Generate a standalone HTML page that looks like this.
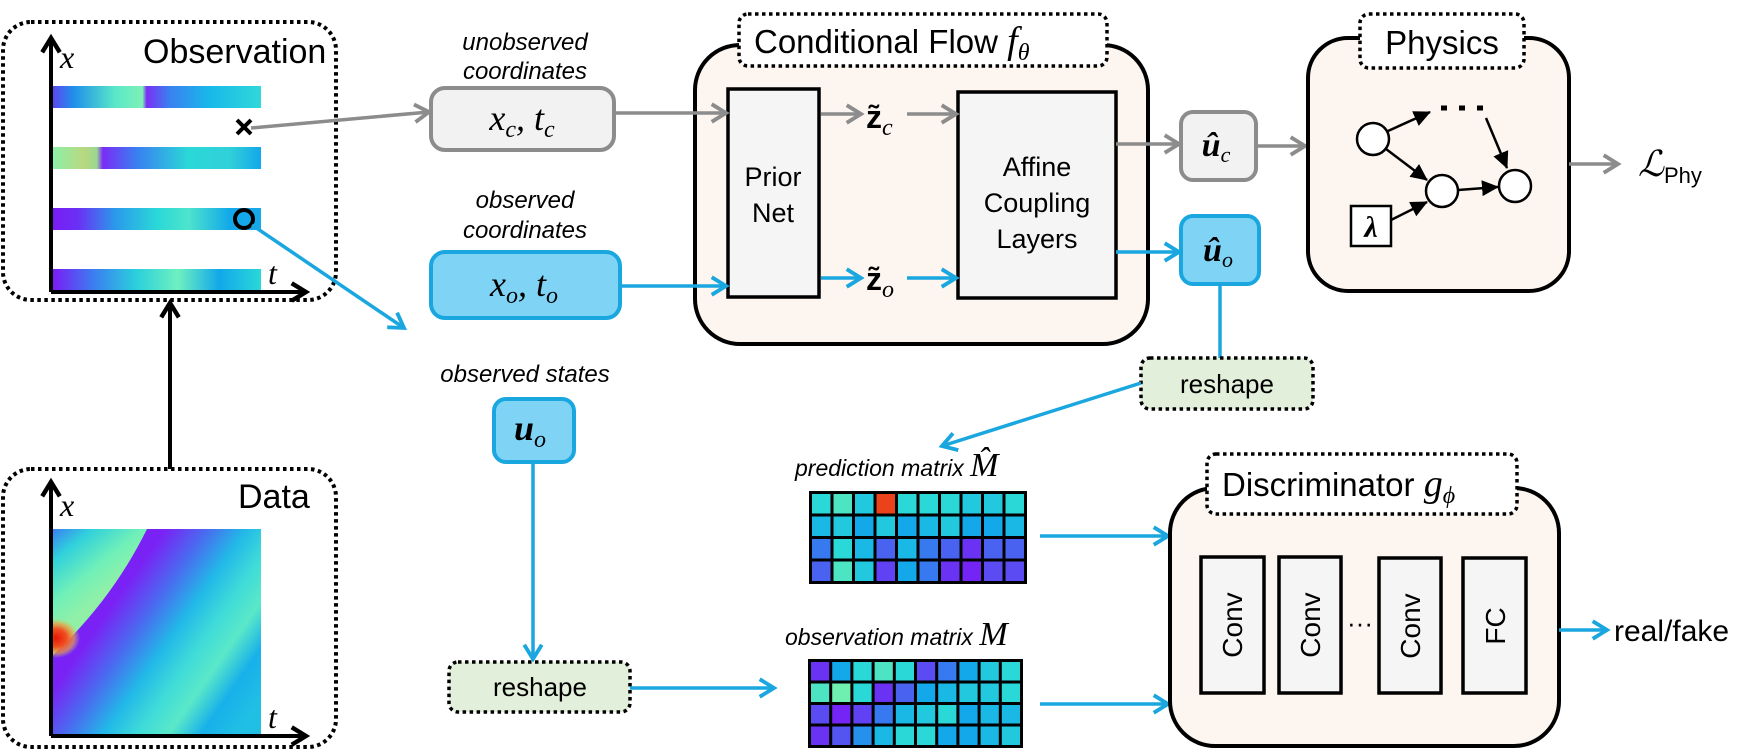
<!DOCTYPE html>
<html><head><meta charset="utf-8"><style>
html,body{margin:0;padding:0;background:#fff;}
svg{display:block;}
text{font-family:"Liberation Sans",sans-serif;}
.ser{font-family:"Liberation Serif",serif;font-style:italic;}
.it{font-style:italic;}
</style></head><body>
<svg id="fig" width="1754" height="750" viewBox="0 0 1754 750" xmlns="http://www.w3.org/2000/svg">
<defs>
<marker id="ag" markerUnits="userSpaceOnUse" markerWidth="22" markerHeight="22" refX="16" refY="9" orient="auto" viewBox="0 0 20 18"><path d="M3,1 L16,9 L3,17" fill="none" stroke="#8c8c8c" stroke-width="3.5"/></marker>
<marker id="ab" markerUnits="userSpaceOnUse" markerWidth="22" markerHeight="22" refX="16" refY="9" orient="auto" viewBox="0 0 20 18"><path d="M3,1 L16,9 L3,17" fill="none" stroke="#1aa7e0" stroke-width="3.5"/></marker>
<marker id="ak" markerUnits="userSpaceOnUse" markerWidth="22" markerHeight="22" refX="16" refY="9" orient="auto" viewBox="0 0 20 18"><path d="M3,1 L16,9 L3,17" fill="none" stroke="#000" stroke-width="4"/></marker>
<marker id="tk" markerUnits="userSpaceOnUse" markerWidth="18" markerHeight="18" refX="16" refY="8" orient="auto" viewBox="0 0 18 16"><path d="M0,0 L17,8 L0,16 Z" fill="#000"/></marker>
<linearGradient id="s1" x1="0" x2="1"><stop offset="0" stop-color="#5a48f0"/><stop offset="0.1" stop-color="#2090ea"/><stop offset="0.3" stop-color="#5ae8c8"/><stop offset="0.43" stop-color="#7ef0b8"/><stop offset="0.45" stop-color="#7a30f5"/><stop offset="0.56" stop-color="#3a80f0"/><stop offset="0.75" stop-color="#18b8ea"/><stop offset="1" stop-color="#30d8d8"/></linearGradient>
<linearGradient id="s2" x1="0" x2="1"><stop offset="0" stop-color="#8ef0a8"/><stop offset="0.15" stop-color="#b8d880"/><stop offset="0.21" stop-color="#9ad890"/><stop offset="0.24" stop-color="#7a2cf6"/><stop offset="0.4" stop-color="#3a7ef0"/><stop offset="0.65" stop-color="#2ad8d8"/><stop offset="0.85" stop-color="#30d0d8"/><stop offset="1" stop-color="#12a8ea"/></linearGradient>
<linearGradient id="s3" x1="0" x2="1"><stop offset="0" stop-color="#7a1cf6"/><stop offset="0.12" stop-color="#6a30f4"/><stop offset="0.3" stop-color="#2a9aea"/><stop offset="0.5" stop-color="#2ad8d8"/><stop offset="0.65" stop-color="#4ee4cc"/><stop offset="0.85" stop-color="#12a8ea"/><stop offset="1" stop-color="#18a8ea"/></linearGradient>
<linearGradient id="s4" x1="0" x2="1"><stop offset="0" stop-color="#7a1cf6"/><stop offset="0.2" stop-color="#3a80f0"/><stop offset="0.4" stop-color="#2ad0dc"/><stop offset="0.6" stop-color="#6ef0c0"/><stop offset="0.8" stop-color="#12a8ea"/><stop offset="1" stop-color="#2ad8d8"/></linearGradient>
<linearGradient id="dg" gradientUnits="userSpaceOnUse" x1="60" y1="560" x2="261" y2="700"><stop offset="0" stop-color="#7a22f5"/><stop offset="0.28" stop-color="#7a22f5"/><stop offset="0.42" stop-color="#4a6af0"/><stop offset="0.55" stop-color="#22b8e8"/><stop offset="0.67" stop-color="#40dcd8"/><stop offset="0.77" stop-color="#5ae8c8"/><stop offset="0.88" stop-color="#18b0ea"/><stop offset="1" stop-color="#20c0e4"/></linearGradient>
<linearGradient id="dw" gradientUnits="userSpaceOnUse" x1="53" y1="529" x2="105" y2="592"><stop offset="0" stop-color="#3a80f0"/><stop offset="0.3" stop-color="#30d0dc"/><stop offset="0.7" stop-color="#70f0b8"/><stop offset="1" stop-color="#90f0a8"/></linearGradient>
<radialGradient id="red"><stop offset="0" stop-color="#e81808"/><stop offset="0.45" stop-color="#f05020"/><stop offset="0.75" stop-color="#f0a040" stop-opacity="0.7"/><stop offset="1" stop-color="#b0e070" stop-opacity="0"/></radialGradient>
<clipPath id="dclip"><rect x="53" y="529" width="208" height="206"/></clipPath>
</defs>

<g>
<rect x="3" y="22" width="333" height="278" rx="28" fill="none" stroke="#000" stroke-width="4" stroke-dasharray="3.5 3.5"/>
<text x="143" y="63" font-size="34">Observation</text>
<rect x="53" y="86" width="208" height="22" fill="url(#s1)"/>
<rect x="53" y="147" width="208" height="22" fill="url(#s2)"/>
<rect x="53" y="208" width="208" height="22" fill="url(#s3)"/>
<rect x="53" y="269" width="208" height="22" fill="url(#s4)"/>
<line x1="51" y1="292" x2="306" y2="292" stroke="#000" stroke-width="4" marker-end="url(#ak)"/>
<line x1="51" y1="292" x2="51" y2="38" stroke="#000" stroke-width="4" marker-end="url(#ak)"/>
<text class="ser" x="60" y="68" font-size="32">x</text>
<text class="ser" x="268" y="284" font-size="32">t</text>
<g stroke="#000" stroke-width="4"><line x1="237" y1="120" x2="251" y2="134"/><line x1="251" y1="120" x2="237" y2="134"/></g>
<circle cx="244" cy="219" r="9" fill="none" stroke="#000" stroke-width="4"/>
</g>

<g>
<rect x="3" y="469" width="333" height="278" rx="28" fill="none" stroke="#000" stroke-width="4" stroke-dasharray="3.5 3.5"/>
<text x="238" y="508" font-size="34">Data</text>
<g clip-path="url(#dclip)">
<rect x="53" y="529" width="208" height="206" fill="url(#dg)"/>
<path d="M53,529 L147,529 Q112,600 53,655 Z" fill="url(#dw)"/>
<ellipse cx="56" cy="638" rx="24" ry="20" fill="url(#red)"/>
</g>
<line x1="51" y1="736" x2="306" y2="736" stroke="#000" stroke-width="4" marker-end="url(#ak)"/>
<line x1="51" y1="736" x2="51" y2="482" stroke="#000" stroke-width="4" marker-end="url(#ak)"/>
<text class="ser" x="60" y="516" font-size="32">x</text>
<text class="ser" x="268" y="728" font-size="32">t</text>
</g>
<line x1="170" y1="469" x2="170" y2="303" stroke="#000" stroke-width="4" marker-end="url(#ak)"/>

<text class="it" x="525" y="50" font-size="24" text-anchor="middle">unobserved</text>
<text class="it" x="525" y="79" font-size="24" text-anchor="middle">coordinates</text>
<rect x="431" y="88" width="183" height="62" rx="14" fill="#f2f2f2" stroke="#8c8c8c" stroke-width="4"/>
<text class="ser" x="522" y="130" font-size="36" text-anchor="middle">x<tspan font-size="24" dy="7">c</tspan><tspan dy="-7">, t</tspan><tspan font-size="24" dy="7">c</tspan></text>
<text class="it" x="525" y="208" font-size="24" text-anchor="middle">observed</text>
<text class="it" x="525" y="238" font-size="24" text-anchor="middle">coordinates</text>
<rect x="431" y="252" width="189" height="66" rx="14" fill="#7fd4f6" stroke="#1aa7e0" stroke-width="4"/>
<text class="ser" x="524" y="296" font-size="36" text-anchor="middle">x<tspan font-size="24" dy="7">o</tspan><tspan dy="-7">, t</tspan><tspan font-size="24" dy="7">o</tspan></text>
<line x1="251" y1="128" x2="429" y2="112" stroke="#8c8c8c" stroke-width="3.5" marker-end="url(#ag)"/>
<line x1="252" y1="225" x2="404" y2="328" stroke="#1aa7e0" stroke-width="3.5" marker-end="url(#ab)"/>

<text class="it" x="525" y="382" font-size="24" text-anchor="middle">observed states</text>
<rect x="494" y="399" width="80" height="63" rx="12" fill="#7fd4f6" stroke="#1aa7e0" stroke-width="4"/>
<text class="ser" x="530" y="440" font-size="36" font-weight="bold" text-anchor="middle">u<tspan font-size="24" font-weight="normal" dy="7">o</tspan></text>
<line x1="533" y1="462" x2="533" y2="659" stroke="#1aa7e0" stroke-width="3.5" marker-end="url(#ab)"/>
<rect x="449" y="662" width="181" height="50" rx="9" fill="#e2efda" stroke="#000" stroke-width="3.5" stroke-dasharray="3.5 3.5"/>
<text x="540" y="696" font-size="26" text-anchor="middle">reshape</text>
<line x1="630" y1="688" x2="774" y2="688" stroke="#1aa7e0" stroke-width="3.5" marker-end="url(#ab)"/>

<g>
<rect x="695" y="45" width="453" height="299" rx="45" fill="#fdf5ef" stroke="#000" stroke-width="4"/>
<rect x="739" y="14" width="368" height="52" rx="9" fill="#fff" stroke="#000" stroke-width="3.5" stroke-dasharray="3.5 3.5"/>
<text x="754" y="53" font-size="33">Conditional  Flow <tspan class="ser" font-size="38">f</tspan><tspan class="ser" font-size="24" dy="7">θ</tspan></text>
<rect x="728" y="89" width="91" height="208" fill="#f5f5f5" stroke="#000" stroke-width="3.5"/>
<text x="773" y="186" font-size="27" text-anchor="middle">Prior</text>
<text x="773" y="222" font-size="27" text-anchor="middle">Net</text>
<rect x="958" y="92" width="158" height="206" fill="#f5f5f5" stroke="#000" stroke-width="3.5"/>
<text x="1037" y="176" font-size="27" text-anchor="middle">Affine</text>
<text x="1037" y="212" font-size="27" text-anchor="middle">Coupling</text>
<text x="1037" y="248" font-size="27" text-anchor="middle">Layers</text>
<line x1="821" y1="114" x2="861" y2="114" stroke="#8c8c8c" stroke-width="3.5" marker-end="url(#ag)"/>
<text x="866" y="128" font-family="Liberation Serif" font-weight="bold" font-size="32">z̃<tspan class="ser" font-weight="normal" font-size="24" dy="7">c</tspan></text>
<line x1="907" y1="114" x2="956" y2="114" stroke="#8c8c8c" stroke-width="3.5" marker-end="url(#ag)"/>
<line x1="821" y1="278" x2="861" y2="278" stroke="#1aa7e0" stroke-width="3.5" marker-end="url(#ab)"/>
<text x="866" y="290" font-family="Liberation Serif" font-weight="bold" font-size="32">z̃<tspan class="ser" font-weight="normal" font-size="24" dy="7">o</tspan></text>
<line x1="907" y1="278" x2="956" y2="278" stroke="#1aa7e0" stroke-width="3.5" marker-end="url(#ab)"/>
</g>
<line x1="614" y1="113" x2="726" y2="113" stroke="#8c8c8c" stroke-width="3.5" marker-end="url(#ag)"/>
<line x1="620" y1="286" x2="726" y2="286" stroke="#1aa7e0" stroke-width="3.5" marker-end="url(#ab)"/>

<line x1="1116" y1="144" x2="1179" y2="144" stroke="#8c8c8c" stroke-width="3.5" marker-end="url(#ag)"/>
<rect x="1181" y="112" width="75" height="68" rx="12" fill="#f2f2f2" stroke="#8c8c8c" stroke-width="4"/>
<text class="ser" x="1216" y="156" font-size="34" font-weight="bold" text-anchor="middle">û<tspan font-size="22" font-weight="normal" dy="6">c</tspan></text>
<line x1="1256" y1="146" x2="1305" y2="146" stroke="#8c8c8c" stroke-width="3.5" marker-end="url(#ag)"/>
<line x1="1116" y1="252" x2="1179" y2="252" stroke="#1aa7e0" stroke-width="3.5" marker-end="url(#ab)"/>
<rect x="1181" y="216" width="78" height="68" rx="12" fill="#7fd4f6" stroke="#1aa7e0" stroke-width="4"/>
<text class="ser" x="1218" y="261" font-size="34" font-weight="bold" text-anchor="middle">û<tspan font-size="22" font-weight="normal" dy="6">o</tspan></text>
<line x1="1220" y1="284" x2="1220" y2="358" stroke="#1aa7e0" stroke-width="3.5"/>
<rect x="1141" y="358" width="172" height="51" rx="9" fill="#e2efda" stroke="#000" stroke-width="3.5" stroke-dasharray="3.5 3.5"/>
<text x="1227" y="393" font-size="26" text-anchor="middle">reshape</text>
<line x1="1141" y1="383" x2="942" y2="446" stroke="#1aa7e0" stroke-width="3.5" marker-end="url(#ab)"/>

<g>
<rect x="1308" y="38" width="261" height="253" rx="40" fill="#fdf5ef" stroke="#000" stroke-width="4"/>
<rect x="1360" y="14" width="164" height="54" rx="9" fill="#fff" stroke="#000" stroke-width="3.5" stroke-dasharray="3.5 3.5"/>
<text x="1442" y="54" font-size="33" text-anchor="middle">Physics</text>
<circle cx="1373" cy="139" r="16" fill="#fff" stroke="#000" stroke-width="2.5"/>
<circle cx="1442" cy="191" r="16" fill="#fff" stroke="#000" stroke-width="2.5"/>
<circle cx="1515" cy="186" r="16" fill="#fff" stroke="#000" stroke-width="2.5"/>
<rect x="1351" y="206" width="40" height="40" fill="#fff" stroke="#000" stroke-width="2.5"/>
<text class="ser" x="1371" y="237" font-size="30" font-weight="bold" text-anchor="middle">λ</text>
<line x1="1388" y1="131" x2="1430" y2="112" stroke="#000" stroke-width="2.5" marker-end="url(#tk)"/>
<line x1="1386" y1="149" x2="1427" y2="180" stroke="#000" stroke-width="2.5" marker-end="url(#tk)"/>
<line x1="1391" y1="220" x2="1427" y2="202" stroke="#000" stroke-width="2.5" marker-end="url(#tk)"/>
<line x1="1458" y1="190" x2="1498" y2="187" stroke="#000" stroke-width="2.5" marker-end="url(#tk)"/>
<line x1="1486" y1="118" x2="1507" y2="168" stroke="#000" stroke-width="2.5" marker-end="url(#tk)"/>
<line x1="1441" y1="108" x2="1484" y2="108" stroke="#000" stroke-width="5" stroke-dasharray="6 12"/>
</g>
<line x1="1569" y1="164" x2="1618" y2="164" stroke="#8c8c8c" stroke-width="3.5" marker-end="url(#ag)"/>
<text x="1638" y="176" font-family="Liberation Serif" font-size="36" font-style="italic">ℒ<tspan font-style="normal" font-size="22" dy="7">Phy</tspan></text>

<text class="it" x="795" y="476" font-size="23">prediction matrix <tspan class="ser" font-size="34">M̂</tspan></text>
<g id="predGrid"></g>
<text class="it" x="785" y="645" font-size="23">observation matrix <tspan class="ser" font-size="34">M</tspan></text>
<g id="obsGrid"></g>
<line x1="1040" y1="536" x2="1168" y2="536" stroke="#1aa7e0" stroke-width="3.5" marker-end="url(#ab)"/>
<line x1="1040" y1="704" x2="1168" y2="704" stroke="#1aa7e0" stroke-width="3.5" marker-end="url(#ab)"/>

<g>
<rect x="1170" y="488" width="389" height="258" rx="45" fill="#fdf5ef" stroke="#000" stroke-width="4"/>
<rect x="1207" y="454" width="310" height="60" rx="9" fill="#fff" stroke="#000" stroke-width="3.5" stroke-dasharray="3.5 3.5"/>
<text x="1222" y="496" font-size="33">Discriminator <tspan class="ser" font-size="38">g</tspan><tspan class="ser" font-size="24" dy="7">ϕ</tspan></text>
<rect x="1201" y="557" width="63" height="136" fill="#f5f5f5" stroke="#000" stroke-width="3.5"/>
<text transform="translate(1242,625) rotate(-90)" font-size="28" text-anchor="middle">Conv</text>
<rect x="1279" y="557" width="62" height="136" fill="#f5f5f5" stroke="#000" stroke-width="3.5"/>
<text transform="translate(1320,625) rotate(-90)" font-size="28" text-anchor="middle">Conv</text>
<text x="1360" y="632" font-size="26" text-anchor="middle">···</text>
<rect x="1379" y="558" width="62" height="135" fill="#f5f5f5" stroke="#000" stroke-width="3.5"/>
<text transform="translate(1420,626) rotate(-90)" font-size="28" text-anchor="middle">Conv</text>
<rect x="1463" y="558" width="63" height="135" fill="#f5f5f5" stroke="#000" stroke-width="3.5"/>
<text transform="translate(1505,626) rotate(-90)" font-size="28" text-anchor="middle">FC</text>
</g>
<line x1="1559" y1="630" x2="1607" y2="630" stroke="#1aa7e0" stroke-width="3.5" marker-end="url(#ab)"/>
<text x="1614" y="641" font-size="30">real/fake</text>
</svg>
<script>
// cell intensity values (0 = purple, 1 = red)
const predRow1 = [0.45, 0.5, 0.4, 0.95, 0.45, 0.45, 0.45, 0.4, 0.4, 0.45];
const predRow2 = [0.35, 0.4, 0.3, 0.4, 0.3, 0.35, 0.4, 0.3, 0.3, 0.35];
const predRow3 = [0.2, 0.45, 0.35, 0.15, 0.35, 0.2, 0.15, 0.05, 0.15, 0.15];
const predRow4 = [0.15, 0.5, 0.4, 0.08, 0.3, 0.2, 0.05, 0.02, 0.1, 0.1];
const obsRow1 = [0.05, 0.3, 0.45, 0.5, 0.45, 0.1, 0.2, 0.3, 0.4, 0.45];
const obsRow2 = [0.5, 0.55, 0.45, 0.05, 0.15, 0.3, 0.35, 0.4, 0.4, 0.45];
const obsRow3 = [0.1, 0.02, 0.08, 0.2, 0.35, 0.4, 0.45, 0.3, 0.35, 0.35];
const obsRow4 = [0.05, 0.12, 0.25, 0.35, 0.45, 0.45, 0.3, 0.3, 0.35, 0.4];

const cmapStops = [[0,[122,28,246]],[0.15,[74,98,240]],[0.3,[18,168,234]],[0.45,[42,216,216]],[0.55,[112,240,176]],[0.7,[184,224,112]],[0.85,[240,138,48]],[1,[232,30,16]]];
function cmap(v){
  for(let i=1;i<cmapStops.length;i++){
    if(v<=cmapStops[i][0]){
      const a=cmapStops[i-1],b=cmapStops[i],t=(v-a[0])/(b[0]-a[0]);
      const c=a[1].map((x,k)=>Math.round(x+(b[1][k]-x)*t));
      return 'rgb('+c.join(',')+')';
    }
  }
  return 'rgb(232,30,16)';
}
const NS='http://www.w3.org/2000/svg';
function drawGrid(id, rows, x0, y0, w, h, prefix){
  const g=document.getElementById(id);
  const nR=rows.length, nC=rows[0].length;
  const bg=document.createElementNS(NS,'rect');
  bg.setAttribute('x',x0);bg.setAttribute('y',y0);bg.setAttribute('width',w);bg.setAttribute('height',h);bg.setAttribute('fill','#000');
  
  
  g.appendChild(bg);
  const b=3, cw=(w-b)/nC, ch=(h-b)/nR;
  rows.forEach((row,r)=>row.forEach((v,c)=>{
    const el=document.createElementNS(NS,'rect');
    el.setAttribute('x',x0+b+c*cw);el.setAttribute('y',y0+b+r*ch);
    el.setAttribute('width',cw-b);el.setAttribute('height',ch-b);
    el.setAttribute('fill',cmap(v));
    
    
    g.appendChild(el);
  }));
}
drawGrid('predGrid',[predRow1,predRow2,predRow3,predRow4],809,491,218,93,'prediction-matrix');
drawGrid('obsGrid',[obsRow1,obsRow2,obsRow3,obsRow4],808,659,215,89,'observation-matrix');
</script>
</body></html>
